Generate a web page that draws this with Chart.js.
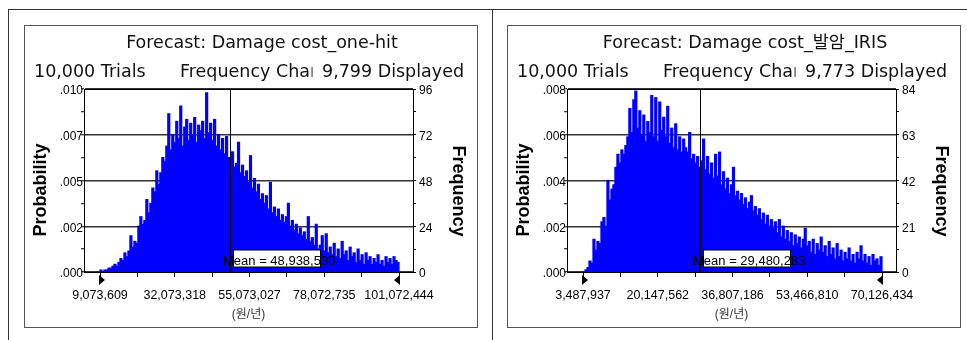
<!DOCTYPE html>
<html>
<head>
<meta charset="utf-8">
<script src="https://cdn.jsdelivr.net/npm/chart.js@4.4.0/dist/chart.umd.min.js"></script>
<style>
  body { margin: 0; background: #fff; width: 967px; height: 340px; position: relative; overflow: hidden; }
  .line { position: absolute; background: #333; }
  .box { position: absolute; top: 25px; width: 454px; height: 303px; border: 1px solid #555; box-sizing: border-box; }
  canvas { position: absolute; top: 25px; width: 454px; height: 302px; }
</style>
</head>
<body>
<div class="line" style="left:8px;top:9px;width:959px;height:1px"></div>
<div class="line" style="left:8px;top:9px;width:1px;height:331px"></div>
<div class="line" style="left:492px;top:9px;width:1px;height:331px"></div>
<div class="box" style="left:24px"></div>
<div class="box" style="left:507px"></div>
<canvas id="chart1" style="left:24px" width="454" height="302"></canvas>
<canvas id="chart2" style="left:507px" width="454" height="302"></canvas>
<script>
// crystal ball forecast charts, two runs of 10,000 trials
const trials = 10000;
const titles = ['Forecast: Damage cost_one-hit', 'Forecast: Damage cost_발암_IRIS'];
const displayed = ['9,799 Displayed', '9,773 Displayed'];
const xUnit = '(원/년)';
const means = [48938530, 29480283];

const xTicks1 = [9073609, 32073318, 55073027, 78072735, 101072444];
const xTicks2 = [3487937, 20147562, 36807186, 53466810, 70126434];
const freqTicks1 = [0, 24, 48, 72, 96];
const freqTicks2 = [0, 21, 42, 63, 84];
const probLabels1 = ['.000', '.002', '.005', '.007', '.010'];
const probLabels2 = ['.000', '.002', '.004', '.006', '.008'];

// frequency per bin (left to right)
const counts1 = [
  1, 0, 1, 1, 2, 2, 3, 4, 3, 5,
  7, 6, 10, 8, 11, 19, 13, 16, 15, 24,
  29, 25, 27, 38, 31, 36, 44, 42, 53, 46,
  52, 60, 58, 66, 83, 64, 72, 68, 79, 70,
  87, 66, 76, 80, 69, 78, 72, 81, 68, 77,
  74, 79, 70, 94, 73, 78, 69, 80, 66, 72,
  64, 70, 62, 71, 60, 58, 63, 55, 57, 68,
  52, 56, 50, 53, 47, 61, 44, 49, 42, 46,
  38, 41, 36, 40, 33, 47, 31, 34, 29, 33,
  27, 30, 26, 29, 36, 24, 27, 22, 25, 20,
  23, 19, 21, 17, 29, 16, 18, 14, 25, 12,
  14, 19, 11, 20, 10, 13, 9, 15, 8, 12,
  7, 16, 9, 11, 6, 13, 8, 10, 5, 12,
  6, 9, 4, 10, 6, 8, 4, 7, 5, 9,
  4, 6, 3, 8, 5, 7, 4, 8, 6, 5
];
const counts2 = [
  0, 1, 2, 5, 4, 15, 10, 14, 13, 23,
  25, 21, 42, 33, 38, 40, 48, 54, 50, 56,
  54, 58, 62, 75, 64, 79, 83, 66, 74, 63,
  72, 60, 69, 64, 81, 62, 80, 60, 78, 65,
  71, 62, 76, 59, 66, 57, 68, 56, 62, 55,
  61, 57, 55, 64, 52, 54, 50, 53, 48, 51,
  61, 47, 53, 45, 50, 43, 54, 44, 55, 40,
  46, 38, 43, 36, 40, 48, 35, 37, 33, 36,
  31, 34, 29, 32, 35, 28, 30, 26, 29, 24,
  27, 22, 26, 21, 24, 20, 23, 18, 24, 16,
  21, 15, 19, 14, 18, 12, 17, 13, 16, 11,
  15, 20, 12, 14, 9, 15, 8, 13, 10, 16,
  9, 12, 7, 14, 8, 11, 6, 13, 7, 10,
  5, 9, 6, 11, 5, 8, 4, 9, 6, 12,
  5, 8, 4, 7, 3, 8, 5, 6, 3, 7
];

Chart.defaults.font.family = '"Liberation Sans", Arial, sans-serif';
Chart.defaults.color = '#000';

function makeChart(id, cfg) {
  const first = cfg.xTicks[0];
  const last = cfg.xTicks[cfg.xTicks.length - 1];
  const span = last - first;
  const binW = span / cfg.counts.length;
  const points = cfg.counts.map((c, i) => ({ x: first + (i + 0.5) * binW, y: c }));
  const top = cfg.freqTicks[cfg.freqTicks.length - 1];

  // major ticks plus one minor between each pair
  const yTickVals = [];
  cfg.freqTicks.forEach((v, i) => {
    yTickVals.push(v);
    if (i < cfg.freqTicks.length - 1) yTickVals.push((v + cfg.freqTicks[i + 1]) / 2);
  });
  const xTickVals = [];
  cfg.xTicks.forEach((v, i) => {
    xTickVals.push(v);
    if (i < cfg.xTicks.length - 1) xTickVals.push((v + cfg.xTicks[i + 1]) / 2);
  });

  const decor = {
    id: 'decor',
    afterDraw(chart) {
      const ctx = chart.ctx;
      const a = chart.chartArea;
      const xs = chart.scales.x;
      ctx.save();

      // plot frame
      ctx.strokeStyle = '#000';
      ctx.lineWidth = 1;
      ctx.strokeRect(Math.round(a.left) + 0.5, Math.round(a.top) + 0.5,
        Math.round(a.right - a.left), Math.round(a.bottom - a.top));

      // mean line and label
      const mx = Math.round(xs.getPixelForValue(cfg.mean)) + 0.5;
      ctx.beginPath();
      ctx.moveTo(mx, a.top);
      ctx.lineTo(mx, a.bottom);
      ctx.stroke();
      ctx.fillStyle = '#fff';
      ctx.fillRect(mx + 3, a.bottom - 22, 87, 17);
      ctx.strokeRect(mx + 3, a.bottom - 22, 87, 17);
      ctx.fillStyle = '#000';
      ctx.font = '13px "Liberation Sans", Arial';
      ctx.textAlign = 'left';
      ctx.textBaseline = 'alphabetic';
      ctx.fillText('Mean = ' + cfg.mean.toLocaleString('en-US'), mx - 7.5, a.bottom - 7);

      // certainty grabbers
      const x0 = xs.getPixelForValue(first);
      const x1 = xs.getPixelForValue(last);
      const ty = a.bottom + 3;
      ctx.beginPath();
      ctx.moveTo(x0 - 1, ty); ctx.lineTo(x0 - 1, ty + 10); ctx.lineTo(x0 + 5, ty + 5);
      ctx.closePath(); ctx.fill();
      ctx.beginPath();
      ctx.moveTo(x1 + 1, ty); ctx.lineTo(x1 + 1, ty + 10); ctx.lineTo(x1 - 5, ty + 5);
      ctx.closePath(); ctx.fill();

      // header lines
      ctx.fillStyle = '#111';
      ctx.font = '17.5px "DejaVu Sans", "Noto Sans CJK KR", sans-serif';
      ctx.textAlign = 'center';
      ctx.fillText(cfg.title, 238, 23);
      ctx.textAlign = 'left';
      ctx.fillText(trials.toLocaleString('en-US') + ' Trials', 10, 52);
      const cut = ctx.measureText('Frequency Cha').width + 2.5;
      ctx.save();
      ctx.beginPath();
      ctx.rect(156, 30, cut, 30);
      ctx.clip();
      ctx.fillText('Frequency Chart', 156, 52);
      ctx.restore();
      ctx.fillText(cfg.displayed, 298, 52);

      // side titles
      ctx.fillStyle = '#000';
      ctx.font = 'bold 18px "Liberation Sans", Arial';
      ctx.textAlign = 'center';
      ctx.textBaseline = 'middle';
      ctx.save();
      ctx.translate(17, 165);
      ctx.rotate(-Math.PI / 2);
      ctx.fillText('Probability', 0, 0);
      ctx.restore();
      ctx.save();
      ctx.translate(434, 166);
      ctx.rotate(Math.PI / 2);
      ctx.fillText('Frequency', 0, 0);
      ctx.restore();

      ctx.restore();
    }
  };

  return new Chart(document.getElementById(id), {
    type: 'bar',
    data: {
      datasets: [{
        data: points,
        xAxisID: 'x',
        yAxisID: 'y',
        backgroundColor: '#0000ff',
        borderWidth: 0,
        inflateAmount: 0.6,
        barPercentage: 1,
        categoryPercentage: 1
      }]
    },
    options: {
      responsive: false,
      animation: false,
      layout: { padding: { top: 64, left: 0, right: 0, bottom: 0 } },
      plugins: { legend: { display: false }, tooltip: { enabled: false } },
      scales: {
        x: {
          type: 'linear',
          offset: false,
          min: first - span * 16 / 299,
          max: last + span * 14 / 299,
          afterBuildTicks: s => { s.ticks = xTickVals.map(v => ({ value: v })); },
          afterFit: s => { s.height = 55; },
          grid: { drawOnChartArea: false, offset: false, tickLength: 5, tickColor: '#000' },
          border: { display: true, color: '#000' },
          ticks: {
            autoSkip: false,
            maxRotation: 0,
            padding: 11,
            font: { size: 12.5 },
            callback: v => cfg.xTicks.includes(v) ? v.toLocaleString('en-US') : ''
          },
          title: {
            display: true,
            text: xUnit,
            color: '#333',
            font: { size: 12, family: '"Liberation Sans", "Noto Sans CJK KR", sans-serif' },
            padding: { top: 0, bottom: 5 }
          }
        },
        yp: {
          position: 'left',
          min: 0,
          max: top,
          afterBuildTicks: s => { s.ticks = yTickVals.map(v => ({ value: v })); },
          afterFit: s => { s.width = 60; },
          grid: {
            color: c => (c.tick && cfg.freqTicks.includes(c.tick.value)) ? '#333' : 'rgba(0,0,0,0)',
            lineWidth: 1.5,
            tickColor: '#000',
            tickWidth: 1,
            tickLength: 3
          },
          border: { display: true, color: '#000' },
          ticks: {
            padding: -2,
            labelOffset: 2,
            font: { size: 12 },
            callback: v => {
              const k = cfg.freqTicks.indexOf(v);
              return k >= 0 ? cfg.probLabels[k] : '';
            }
          }
        },
        y: {
          position: 'right',
          min: 0,
          max: top,
          afterBuildTicks: s => { s.ticks = yTickVals.map(v => ({ value: v })); },
          afterFit: s => { s.width = 65; },
          grid: { drawOnChartArea: false, tickColor: '#000', tickLength: 3 },
          border: { display: true, color: '#000' },
          ticks: {
            padding: 3,
            labelOffset: 2,
            font: { size: 12 },
            callback: v => cfg.freqTicks.includes(v) ? String(v) : ''
          }
        }
      }
    },
    plugins: [decor]
  });
}

makeChart('chart1', {
  title: titles[0], displayed: displayed[0], mean: means[0],
  xTicks: xTicks1, freqTicks: freqTicks1, probLabels: probLabels1, counts: counts1
});
makeChart('chart2', {
  title: titles[1], displayed: displayed[1], mean: means[1],
  xTicks: xTicks2, freqTicks: freqTicks2, probLabels: probLabels2, counts: counts2
});
</script>
</body>
</html>
